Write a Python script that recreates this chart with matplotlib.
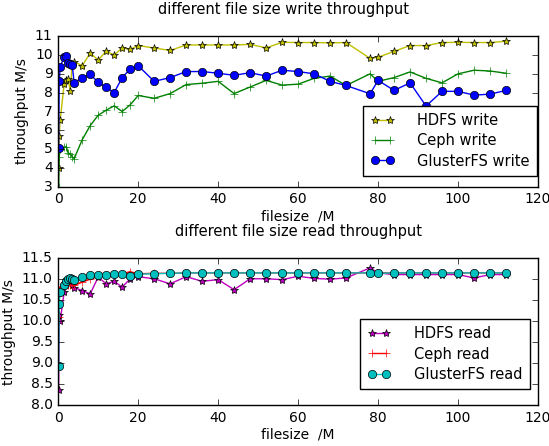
import matplotlib
matplotlib.use('Agg')
import matplotlib.pyplot as plt

plt.style.use('classic')

# file sizes (M)
filesize = [0.1, 0.25, 0.5, 1.5, 2, 2.5, 3, 3.5, 4,
            6, 8, 10, 12, 14, 16, 18, 20, 24, 28, 32, 36, 40, 44, 48, 52, 56,
            60, 64, 68, 72, 78, 80, 84, 88, 92, 96, 100, 104, 108, 112]

# write throughput M/s
hdfs_write = [4.0, 5.7, 6.55, 8.47, 8.65, 8.74, 8.1, 9.5, 9.64,
              9.43, 10.1, 9.73, 10.2, 10.0, 10.37, 10.3, 10.5, 10.37, 10.24, 10.53,
              10.53, 10.53, 10.53, 10.56, 10.38, 10.67,
              10.66, 10.66, 10.64, 10.66, 9.82, 9.88, 10.19, 10.5, 10.5, 10.66,
              10.67, 10.66, 10.66, 10.73]
ceph_write = [3.0, 4.6, 5.0, 5.1, 5.14, 4.8, 4.75, 4.6, 4.5,
              5.5, 6.25, 6.8, 7.07, 7.3, 7.0, 7.35, 7.85, 7.7, 7.95, 8.43,
              8.5, 8.6, 7.95, 8.3, 8.65, 8.4,
              8.45, 8.76, 8.88, 8.38, 9.0, 8.6, 8.8, 9.1, 8.76, 8.52,
              9.0, 9.19, 9.15, 9.03]
gluster_write = [5.08, 8.6, 9.37, 9.91, 9.97, 9.6, 9.52, 9.46, 8.52,
                 8.8, 8.97, 8.55, 8.28, 8.0, 8.8, 9.25, 9.43, 8.6, 8.8, 9.12,
                 9.12, 9.03, 8.92, 9.06, 8.88, 9.19,
                 9.12, 9.0, 8.6, 8.38, 7.94, 8.65, 8.12, 8.52, 7.29, 8.07,
                 8.07, 7.87, 7.92, 8.12]

# read throughput M/s
hdfs_read = [8.35, 10.15, 10.0, 10.7, 10.85, 10.95, 10.9, 10.85, 10.8,
             10.73, 10.65, 11.05, 10.89, 10.95, 10.81, 11.01, 11.06, 11.01, 10.89, 11.06,
             10.95, 10.99, 10.75, 11.01, 11.01, 10.99,
             11.07, 11.02, 11.0, 11.03, 11.27, 11.15, 11.11, 11.11, 11.11, 11.11,
             11.11, 11.03, 11.11, 11.11]
ceph_read = [10.1, 10.75, 10.82, 10.85, 10.86, 10.87, 10.86, 10.85, 10.85,
             10.93, 11.0, 11.07, 11.1, 11.12, 11.13, 11.18, 11.13, 11.14, 11.14, 11.15,
             11.15, 11.15, 11.15, 11.15, 11.15, 11.15,
             11.15, 11.15, 11.15, 11.15, 11.15, 11.15, 11.15, 11.15, 11.15, 11.15,
             11.15, 11.15, 11.15, 11.15]
gluster_read = [8.93, 10.42, 10.69, 10.85, 10.95, 11.0, 11.03, 11.0, 10.98,
                11.06, 11.09, 11.1, 11.1, 11.12, 11.12, 11.07, 11.12, 11.13, 11.14, 11.15,
                11.15, 11.15, 11.15, 11.15, 11.15, 11.15,
                11.15, 11.15, 11.15, 11.15, 11.15, 11.14, 11.15, 11.15, 11.15, 11.15,
                11.15, 11.15, 11.15, 11.15]

fig = plt.figure(figsize=(5.49, 4.46), dpi=100, facecolor='white')

leg_kw = dict(fontsize=10.5, handlelength=1.6, handletextpad=1.6,
              borderpad=0.5, labelspacing=0.35, borderaxespad=0)

# write
ax1 = fig.add_axes([0.106, 0.581, 0.874, 0.338])
ax1.plot(filesize, hdfs_write, 'y*-', label='HDFS write')
ax1.plot(filesize, ceph_write, 'g+-', label='Ceph write')
ax1.plot(filesize, gluster_write, 'bo-', label='GlusterFS write')
ax1.set_xlim(0, 120)
ax1.set_ylim(3, 11)
ax1.set_title('different file size write throughput', fontsize=10.5, pad=16, x=0.469)
ax1.set_xlabel('filesize  /M', fontsize=10, labelpad=2)
ax1.set_ylabel('throughput M/s', fontsize=10, labelpad=4)
ax1.tick_params(labelsize=10)
ax1.legend(loc='lower right', bbox_to_anchor=(0.998, 0.073), **leg_kw)

# read
ax2 = fig.add_axes([0.106, 0.092, 0.874, 0.329])
ax2.plot(filesize, hdfs_read, 'm*-', label='HDFS read')
ax2.plot(filesize, ceph_read, 'r+-', label='Ceph read')
ax2.plot(filesize, gluster_read, 'co-', label='GlusterFS read')
ax2.set_xlim(0, 120)
ax2.set_ylim(8.0, 11.5)
ax2.set_title('different file size read throughput', fontsize=10.5, pad=16)
ax2.set_xlabel('filesize  /M', fontsize=10, labelpad=2)
ax2.set_ylabel('throughput M/s', fontsize=10, labelpad=4)
ax2.tick_params(labelsize=10)
ax2.legend(loc='lower right', bbox_to_anchor=(0.983, 0.109), **leg_kw)

fig.savefig('out.png', dpi=100, facecolor='white')
